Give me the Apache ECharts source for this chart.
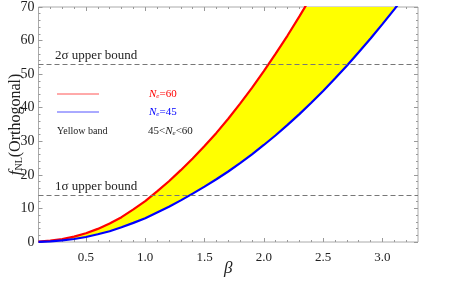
<!DOCTYPE html>
<html><head><meta charset="utf-8">
<script src="https://cdn.jsdelivr.net/npm/echarts@6/dist/echarts.min.js"></script>
<style>html,body{margin:0;padding:0;background:#fff}#c{width:457px;height:283px}</style>
</head><body><div id="c"></div>
<script>
const beta = [0.1,0.2,0.3,0.4,0.5,0.6,0.7,0.8,0.9,1.0,1.1,1.2,1.3,1.4,1.5,1.6,1.7,1.8,1.9,2.0,2.1,2.2,2.3,2.4,2.5,2.6,2.7,2.8,2.9,3.0,3.1,3.2];
const fnlNe60 = [0.1,0.4,0.9,1.6,2.6,3.9,5.5,7.4,9.7,12.2,15.1,18.1,21.4,24.9,28.6,32.5,36.7,41.2,45.9,50.9,56.1,61.5,67.2,73.1];
const fnlNe45 = [0.05,0.2,0.5,0.9,1.5,2.3,3.2,4.4,5.7,7.1,8.8,10.5,12.4,14.4,16.5,18.7,21.0,23.5,26.1,28.9,31.8,34.9,38.1,41.5,45.0,48.7,52.5,56.5,60.6,64.9,69.3,73.8];
const bounds = [{name:'2σ upper bound', value:53},{name:'1σ upper bound', value:14}];
const xMajorTicks = [0.5,1.0,1.5,2.0,2.5,3.0];
const xMinorTicks = [0.2,0.3,0.4,0.6,0.7,0.8,0.9,1.1,1.2,1.3,1.4,1.6,1.7,1.8,1.9,2.1,2.2,2.3,2.4,2.6,2.7,2.8,2.9,3.1,3.2];
const yTicks = {min:0, max:70, interval:10};
const xRange = {min:0.1, max:3.3};

const SERIF = '"Liberation Serif","DejaVu Serif",serif';
const red = '#ff0000', blue = '#0000ff', yellow = '#ffff00';
const tickColor = '#999';

const redPts = fnlNe60.map((v,i)=>[beta[i], v]);
const bluePts = fnlNe45.map((v,i)=>[beta[i], v]);
const TOP_FILL = 76; // band continues above the plot top once the Ne=60 curve has left the frame

function xAxisDef(pos, ticks, len, showLabel, extra){
  return Object.assign({
    type:'value', position:pos, min:xRange.min, max:xRange.max,
    axisLine:{show:false},
    axisTick:{show:true, inside:true, length:len, customValues:ticks, lineStyle:{color:tickColor, width:1}},
    axisLabel:{show:showLabel, customValues:ticks, formatter:v=>v.toFixed(1), fontFamily:SERIF, fontSize:13, color:'#222', margin:9},
    splitLine:{show:false}
  }, extra||{});
}
function yAxisDef(pos, showLabel, extra){
  return Object.assign({
    type:'value', position:pos, min:yTicks.min, max:yTicks.max, interval:yTicks.interval,
    axisLine:{show:false},
    axisTick:{show:true, inside:true, length:4, lineStyle:{color:tickColor, width:1}},
    minorTick:{show:true, splitNumber:5, length:2, lineStyle:{color:tickColor, width:1}},
    axisLabel:{show:showLabel, fontFamily:SERIF, fontSize:14, color:'#222', margin:4},
    splitLine:{show:false}
  }, extra||{});
}

function renderBand(params, api){
  const cs = params.coordSys;
  const up = [], lo = [];
  for (let i = 0; i < beta.length; i++){
    const u = i < fnlNe60.length ? fnlNe60[i] : TOP_FILL;
    up.push(api.coord([beta[i], u]));
    lo.push(api.coord([beta[i], fnlNe45[i]]));
  }
  const pts = up.concat(lo.reverse());
  return {
    type:'polygon', shape:{points:pts},
    style:{fill:yellow, stroke:null},
    clipPath:{type:'rect', shape:{x:cs.x, y:cs.y, width:cs.width, height:cs.height}}
  };
}

const chart = echarts.init(document.getElementById('c'), null, {renderer:'canvas'});
const option = {
  animation:false,
  backgroundColor:'#fff',
  grid:{left:38.5, top:7, right:39, bottom:41, show:true, borderColor:'#aaa', borderWidth:1, backgroundColor:'transparent', outerBoundsMode:'none', containLabel:false},
  xAxis:[
    xAxisDef('bottom', xMajorTicks, 4, true, {name:'β', nameLocation:'middle', nameGap:18, nameMoveOverlap:false, nameTextStyle:{fontFamily:SERIF, fontStyle:'italic', fontSize:17, color:'#222'}}),
    xAxisDef('bottom', xMinorTicks, 2, false),
    xAxisDef('top', xMajorTicks, 4, false),
    xAxisDef('top', xMinorTicks, 2, false)
  ],
  yAxis:[
    yAxisDef('left', true, {
      name:'{f|f}{s|NL}{n|(Orthogonal)}', nameLocation:'middle', nameGap:14, nameRotate:90, nameMoveOverlap:false,
      nameTextStyle:{color:'#222', rich:{
        f:{fontFamily:SERIF, fontStyle:'italic', fontSize:17, color:'#222'},
        s:{fontFamily:SERIF, fontSize:10, color:'#222', verticalAlign:'bottom', padding:[7,0,0,0]},
        n:{fontFamily:SERIF, fontSize:16, color:'#222'}
      }}
    }),
    yAxisDef('right', false)
  ],
  series:[
    {type:'custom', name:'band', renderItem:renderBand, data:[[0]], silent:true, z:1,
     markLine:{silent:true, symbol:'none', label:{show:false}, lineStyle:{color:'#777', type:[5,3], width:1}, z:5,
       data: bounds.map(b=>({yAxis:b.value}))}},
    {type:'line', name:'Ne=60', data:redPts, symbol:'none', lineStyle:{color:red, width:2.2}, z:3},
    {type:'line', name:'Ne=45', data:bluePts, symbol:'none', lineStyle:{color:blue, width:2.2}, z:3}
  ]
};
chart.setOption(option);

const g = [];
bounds.forEach(b=>{
  const p = chart.convertToPixel({xAxisIndex:0, yAxisIndex:0}, [0.24, b.value]);
  g.push({type:'text', x:p[0], y:p[1]-1.5, style:{text:b.name, fill:'#222', fontFamily:SERIF, fontSize:13, verticalAlign:'bottom'}});
});
const lg = [
  {y:94, color:'#ff5555', label:'{i|N}{s|e}{t|=60}', tc:red},
  {y:112, color:'#5555ff', label:'{i|N}{s|e}{t|=45}', tc:blue}
];
lg.forEach(l=>{
  g.push({type:'line', shape:{x1:57, y1:l.y, x2:99, y2:l.y}, style:{stroke:l.color, lineWidth:1}});
  g.push({type:'text', x:149, y:l.y, style:{text:l.label, verticalAlign:'middle', rich:{
    i:{fontFamily:SERIF, fontStyle:'italic', fontSize:11, fill:l.tc},
    s:{fontFamily:SERIF, fontStyle:'italic', fontSize:7, fill:l.tc, verticalAlign:'bottom', padding:[5,0,0,0]},
    t:{fontFamily:SERIF, fontSize:11, fill:l.tc}
  }}});
});
g.push({type:'text', x:57, y:131, style:{text:'Yellow band', fill:'#222', fontFamily:SERIF, fontSize:10, verticalAlign:'middle'}});
g.push({type:'text', x:148, y:131, style:{text:'{t|45<}{i|N}{s|e}{t|<60}', verticalAlign:'middle', rich:{
  i:{fontFamily:SERIF, fontStyle:'italic', fontSize:11, fill:'#222'},
  s:{fontFamily:SERIF, fontStyle:'italic', fontSize:7, fill:'#222', verticalAlign:'bottom', padding:[5,0,0,0]},
  t:{fontFamily:SERIF, fontSize:11, fill:'#222'}
}}});
chart.setOption({graphic:{elements:g}});
</script>
</body></html>
